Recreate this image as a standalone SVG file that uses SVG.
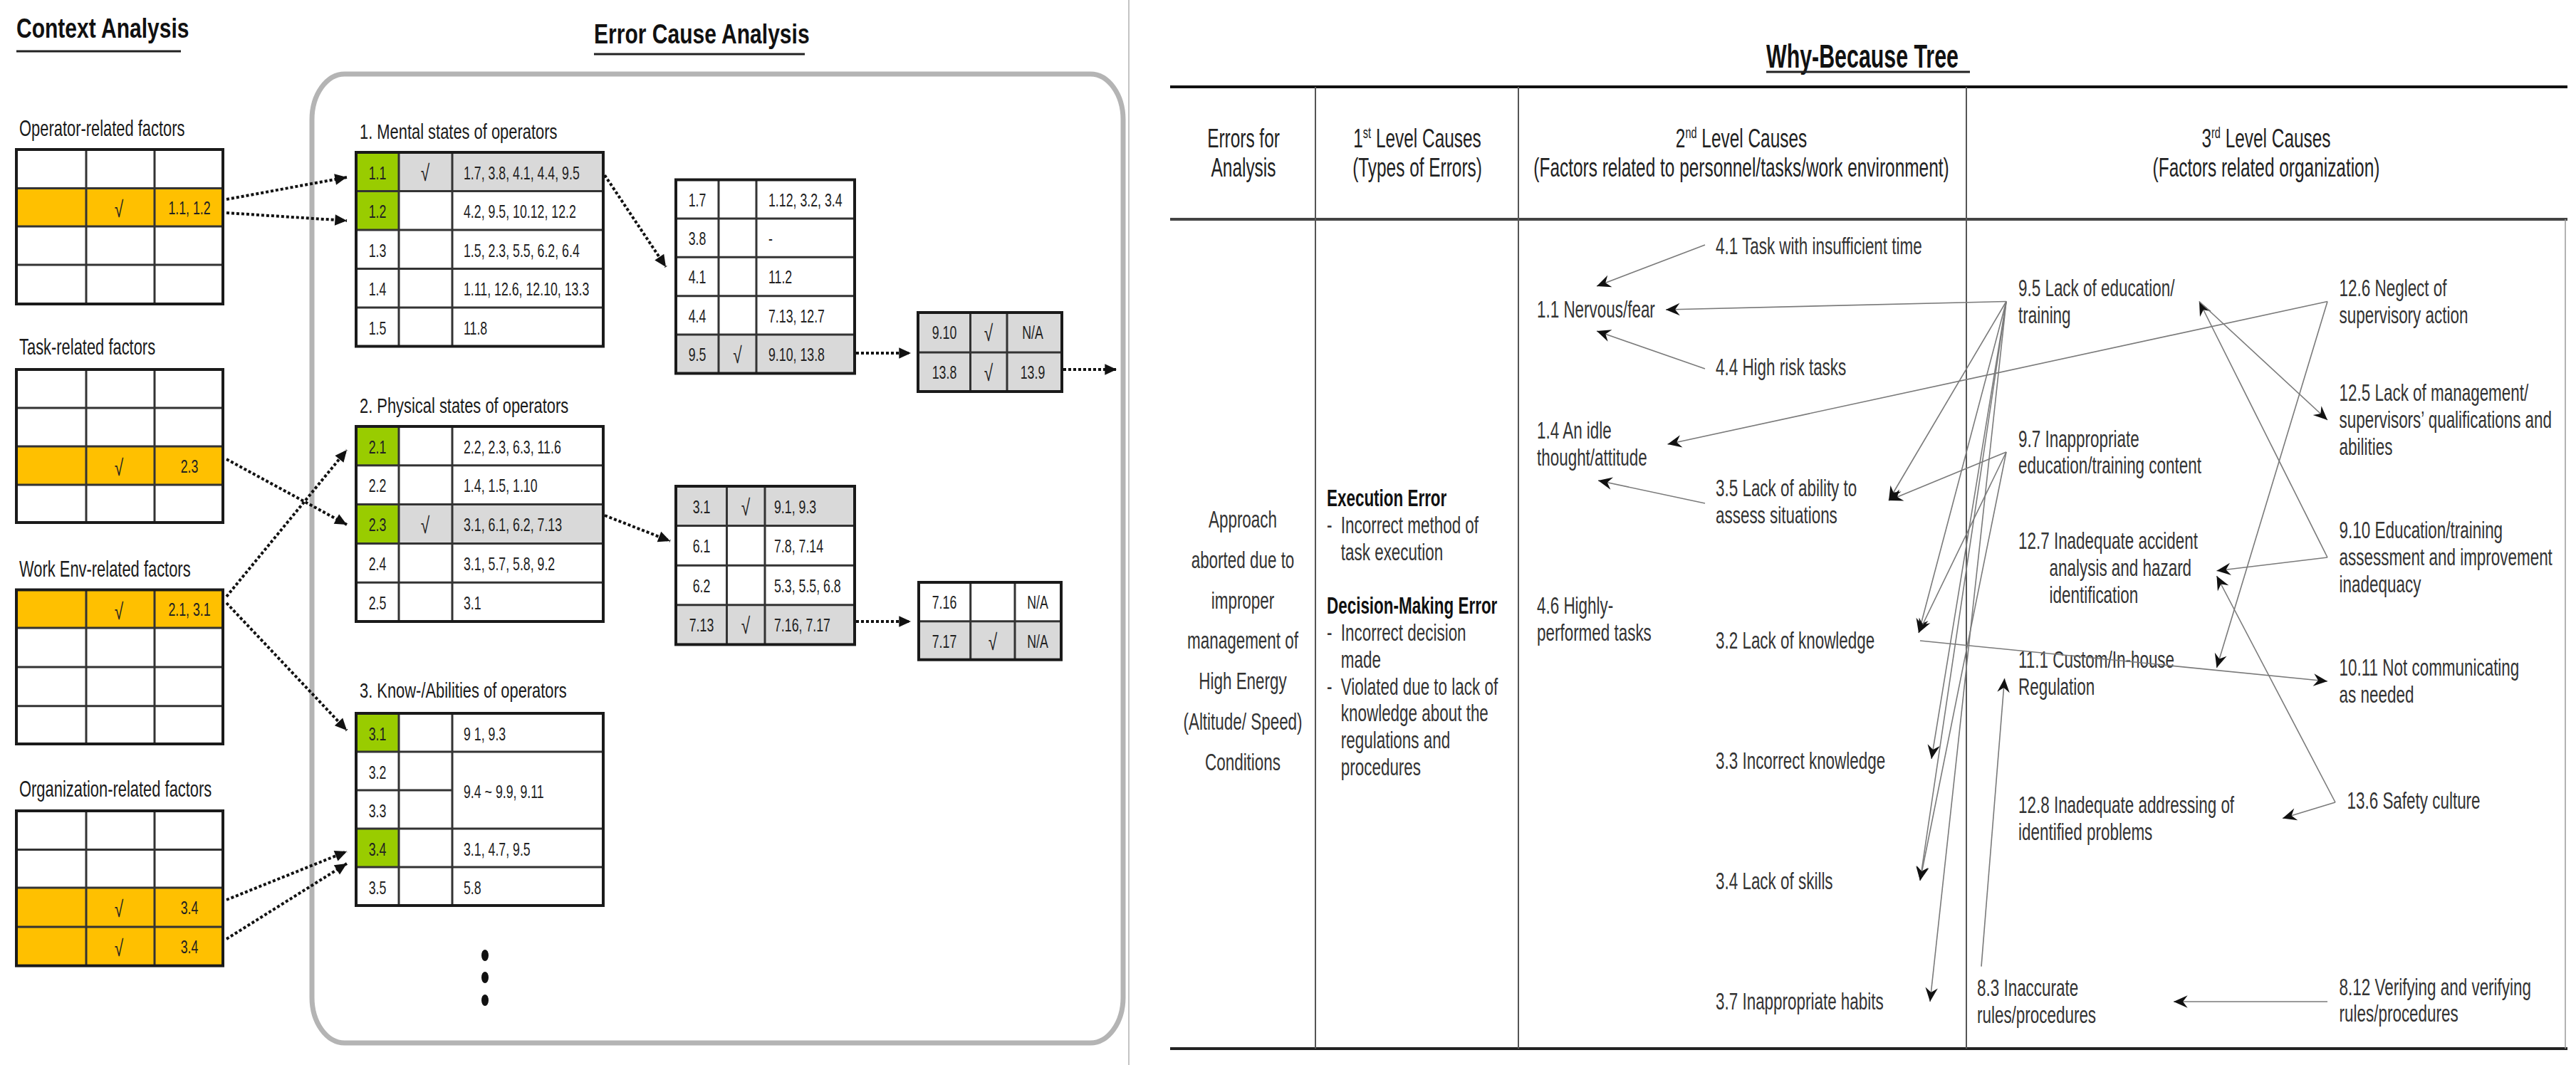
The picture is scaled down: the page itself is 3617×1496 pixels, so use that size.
<svg xmlns="http://www.w3.org/2000/svg" width="3617" height="1496" viewBox="0 0 3617 1496">
<defs>
<style>
.f{font-family:"Liberation Sans",Arial,"DejaVu Sans",sans-serif}
.lbl{font-size:32px;fill:#1a1a1a}
.cell{font-size:25px;fill:#222}
.chk{font-size:32px;fill:#222}
.ttl{font-size:39px;font-weight:bold;fill:#111}
.tb{fill:none;stroke:#1a1a1a;stroke-width:4}
.ln{stroke:#333;stroke-width:3;fill:none}
.y{fill:#FFC000}.g{fill:#99CC00}.gr{fill:#D9D9D9}
.dot{fill:none;stroke:#111;stroke-width:4;stroke-dasharray:4 3}
.rt{font-size:34px;fill:#333}
.rh{font-size:37px;fill:#222}
.con{fill:none;stroke:#7a7a7a;stroke-width:1.6}
.grid{stroke:#555;stroke-width:2}
</style>
<marker id="ad" markerUnits="userSpaceOnUse" markerWidth="20" markerHeight="20" viewBox="-16 -8 18 16" refX="0" refY="0" orient="auto"><path d="M0,0 L-15,-7 L-15,7 Z" fill="#111"/></marker>
<marker id="as" markerUnits="userSpaceOnUse" markerWidth="24" markerHeight="22" viewBox="-20 -10 22 20" refX="0" refY="0" orient="auto"><path d="M0,0 L-18,-8 L-12,0 L-18,8 Z" fill="#111"/></marker>
</defs>
<rect width="3617" height="1496" fill="#fff"/>

<!-- Titles -->
<g id="title-context">
<text class="f ttl" transform="translate(23,53) scale(0.77,1)">Context Analysis</text>
<path d="M23,72H254" stroke="#222" stroke-width="3"/>
</g>
<g id="title-error">
<text class="f ttl" transform="translate(834,61) scale(0.77,1)">Error Cause Analysis</text>
<path d="M834,76H1130" stroke="#222" stroke-width="3"/>
</g>
<rect id="error-frame" x="438" y="104" width="1139" height="1361" rx="46" ry="64" fill="none" stroke="#b4b4b4" stroke-width="7"/>
<path id="panel-divider" d="M1585,0V1496" stroke="#c4c4c4" stroke-width="2"/>

<!-- Context tables -->
<g id="ctx-operator">
<text class="f lbl" transform="translate(27,191) scale(0.685,1)">Operator-related factors</text>
<rect x="23" y="210" width="290" height="217" fill="#fff"/>
<rect x="23" y="264.5" width="290" height="53.5" class="y"/>
<path class="ln" d="M23,264.5H313M23,318H313M23,372H313M121,210V427M217,210V427"/>
<rect class="tb" x="23" y="210" width="290" height="217"/>
<text class="f chk" text-anchor="middle" transform="translate(167,305) scale(0.71,1)">√</text>
<text class="f cell" text-anchor="middle" transform="translate(266,301) scale(0.71,1)">1.1, 1.2</text>
</g>
<g id="ctx-task">
<text class="f lbl" transform="translate(27,497.5) scale(0.685,1)">Task-related factors</text>
<rect x="23" y="519" width="290" height="215" fill="#fff"/>
<rect x="23" y="627" width="290" height="54" class="y"/>
<path class="ln" d="M23,573H313M23,627H313M23,681H313M121,519V734M217,519V734"/>
<rect class="tb" x="23" y="519" width="290" height="215"/>
<text class="f chk" text-anchor="middle" transform="translate(167,668) scale(0.71,1)">√</text>
<text class="f cell" text-anchor="middle" transform="translate(266,664) scale(0.71,1)">2.3</text>
</g>
<g id="ctx-workenv">
<text class="f lbl" transform="translate(27,809.5) scale(0.685,1)">Work Env-related factors</text>
<rect x="23" y="828.5" width="290" height="216.5" fill="#fff"/>
<rect x="23" y="828.5" width="290" height="53.5" class="y"/>
<path class="ln" d="M23,882H313M23,937H313M23,991.7H313M121,828.5V1045M217,828.5V1045"/>
<rect class="tb" x="23" y="828.5" width="290" height="216.5"/>
<text class="f chk" text-anchor="middle" transform="translate(167,869.5) scale(0.71,1)">√</text>
<text class="f cell" text-anchor="middle" transform="translate(266,865) scale(0.71,1)">2.1, 3.1</text>
</g>
<g id="ctx-organization">
<text class="f lbl" transform="translate(27,1118.7) scale(0.685,1)">Organization-related factors</text>
<rect x="23" y="1139" width="290" height="217.6" fill="#fff"/>
<rect x="23" y="1247" width="290" height="109.6" class="y"/>
<path class="ln" d="M23,1193.5H313M23,1247H313M23,1302H313M121,1139V1356.6M217,1139V1356.6"/>
<rect class="tb" x="23" y="1139" width="290" height="217.6"/>
<text class="f chk" text-anchor="middle" transform="translate(167,1288) scale(0.71,1)">√</text>
<text class="f cell" text-anchor="middle" transform="translate(266,1283.5) scale(0.71,1)">3.4</text>
<text class="f chk" text-anchor="middle" transform="translate(167,1343) scale(0.71,1)">√</text>
<text class="f cell" text-anchor="middle" transform="translate(266,1338.5) scale(0.71,1)">3.4</text>
</g>

<!-- Error cause tables -->
<g id="ec-mental">
<text class="f lbl" style="font-size:30px" transform="translate(505,195) scale(0.73,1)">1. Mental states of operators</text>
<rect x="500" y="214" width="347" height="272.5" fill="#fff"/>
<rect x="500" y="214" width="60" height="109" class="g"/>
<rect x="560" y="214" width="287" height="54.5" class="gr"/>
<path class="ln" d="M500,268.5H847M500,323H847M500,377.5H847M500,432H847M560,214V486.5M635,214V486.5"/>
<rect class="tb" x="500" y="214" width="347" height="272.5"/>
<g class="f cell">
<text text-anchor="middle" transform="translate(530,251.5) scale(0.71,1)">1.1</text>
<text text-anchor="middle" transform="translate(530,306) scale(0.71,1)">1.2</text>
<text text-anchor="middle" transform="translate(530,360.5) scale(0.71,1)">1.3</text>
<text text-anchor="middle" transform="translate(530,415) scale(0.71,1)">1.4</text>
<text text-anchor="middle" transform="translate(530,469.5) scale(0.71,1)">1.5</text>
<text transform="translate(651,251.5) scale(0.71,1)">1.7, 3.8, 4.1, 4.4, 9.5</text>
<text transform="translate(651,306) scale(0.71,1)">4.2, 9.5, 10.12, 12.2</text>
<text transform="translate(651,360.5) scale(0.71,1)">1.5, 2.3, 5.5, 6.2, 6.4</text>
<text transform="translate(651,415) scale(0.71,1)">1.11, 12.6, 12.10, 13.3</text>
<text transform="translate(651,469.5) scale(0.71,1)">11.8</text>
</g>
<text class="f chk" text-anchor="middle" transform="translate(597,254) scale(0.71,1)">√</text>
</g>

<g id="ec-physical">
<text class="f lbl" style="font-size:30px" transform="translate(505,580) scale(0.73,1)">2. Physical states of operators</text>
<rect x="500" y="599" width="347" height="274" fill="#fff"/>
<rect x="500" y="599" width="60" height="54.8" class="g"/>
<rect x="500" y="708.6" width="60" height="54.8" class="g"/>
<rect x="560" y="708.6" width="287" height="54.8" class="gr"/>
<path class="ln" d="M500,653.8H847M500,708.6H847M500,763.4H847M500,818.2H847M560,599V873M635,599V873"/>
<rect class="tb" x="500" y="599" width="347" height="274"/>
<g class="f cell">
<text text-anchor="middle" transform="translate(530,636.5) scale(0.71,1)">2.1</text>
<text text-anchor="middle" transform="translate(530,691.3) scale(0.71,1)">2.2</text>
<text text-anchor="middle" transform="translate(530,746.1) scale(0.71,1)">2.3</text>
<text text-anchor="middle" transform="translate(530,800.9) scale(0.71,1)">2.4</text>
<text text-anchor="middle" transform="translate(530,855.7) scale(0.71,1)">2.5</text>
<text transform="translate(651,636.5) scale(0.71,1)">2.2, 2.3, 6.3, 11.6</text>
<text transform="translate(651,691.3) scale(0.71,1)">1.4, 1.5, 1.10</text>
<text transform="translate(651,746.1) scale(0.71,1)">3.1, 6.1, 6.2, 7.13</text>
<text transform="translate(651,800.9) scale(0.71,1)">3.1, 5.7, 5.8, 9.2</text>
<text transform="translate(651,855.7) scale(0.71,1)">3.1</text>
</g>
<text class="f chk" text-anchor="middle" transform="translate(597,749) scale(0.71,1)">√</text>
</g>

<g id="ec-know">
<text class="f lbl" style="font-size:30px" transform="translate(505,980) scale(0.73,1)">3. Know-/Abilities of operators</text>
<rect x="500" y="1002" width="347" height="270" fill="#fff"/>
<rect x="500" y="1002" width="60" height="54" class="g"/>
<rect x="500" y="1164" width="60" height="54" class="g"/>
<path class="ln" d="M500,1056H847M500,1110H635M500,1164H847M500,1218H847M560,1002V1272M635,1002V1272"/>
<rect class="tb" x="500" y="1002" width="347" height="270"/>
<g class="f cell">
<text text-anchor="middle" transform="translate(530,1039.5) scale(0.71,1)">3.1</text>
<text text-anchor="middle" transform="translate(530,1093.5) scale(0.71,1)">3.2</text>
<text text-anchor="middle" transform="translate(530,1147.5) scale(0.71,1)">3.3</text>
<text text-anchor="middle" transform="translate(530,1201.5) scale(0.71,1)">3.4</text>
<text text-anchor="middle" transform="translate(530,1255.5) scale(0.71,1)">3.5</text>
<text transform="translate(651,1039.5) scale(0.71,1)">9 1, 9.3</text>
<text transform="translate(651,1120.5) scale(0.71,1)">9.4 ~ 9.9, 9.11</text>
<text transform="translate(651,1201.5) scale(0.71,1)">3.1, 4.7, 9.5</text>
<text transform="translate(651,1255.5) scale(0.71,1)">5.8</text>
</g>
</g>

<g id="ec-dots" fill="#111">
<ellipse cx="681" cy="1342" rx="5" ry="8"/>
<ellipse cx="681" cy="1373" rx="5" ry="8"/>
<ellipse cx="681" cy="1405" rx="5" ry="8"/>
</g>

<g id="ec-t17">
<rect x="949" y="252.5" width="251" height="272" fill="#fff"/>
<rect x="949" y="470.1" width="251" height="54.4" class="gr"/>
<path class="ln" d="M949,306.9H1200M949,361.3H1200M949,415.7H1200M949,470.1H1200M1009,252.5V524.5M1062,252.5V524.5"/>
<rect class="tb" x="949" y="252.5" width="251" height="272"/>
<g class="f cell">
<text text-anchor="middle" transform="translate(979,289.5) scale(0.71,1)">1.7</text>
<text text-anchor="middle" transform="translate(979,343.9) scale(0.71,1)">3.8</text>
<text text-anchor="middle" transform="translate(979,398.3) scale(0.71,1)">4.1</text>
<text text-anchor="middle" transform="translate(979,452.7) scale(0.71,1)">4.4</text>
<text text-anchor="middle" transform="translate(979,507.1) scale(0.71,1)">9.5</text>
<text transform="translate(1079,289.5) scale(0.71,1)">1.12, 3.2, 3.4</text>
<text transform="translate(1079,343.9) scale(0.71,1)">-</text>
<text transform="translate(1079,398.3) scale(0.71,1)">11.2</text>
<text transform="translate(1079,452.7) scale(0.71,1)">7.13, 12.7</text>
<text transform="translate(1079,507.1) scale(0.71,1)">9.10, 13.8</text>
</g>
<text class="f chk" text-anchor="middle" transform="translate(1035.5,510) scale(0.71,1)">√</text>
</g>

<g id="ec-t910">
<rect x="1289" y="439" width="202" height="111" class="gr"/>
<path class="ln" d="M1289,495H1491M1362.5,439V550M1414,439V550"/>
<rect class="tb" x="1289" y="439" width="202" height="111"/>
<g class="f cell">
<text text-anchor="middle" transform="translate(1326,476) scale(0.71,1)">9.10</text>
<text text-anchor="middle" transform="translate(1326,531.5) scale(0.71,1)">13.8</text>
<text text-anchor="middle" transform="translate(1450,476) scale(0.71,1)">N/A</text>
<text text-anchor="middle" transform="translate(1450,531.5) scale(0.71,1)">13.9</text>
</g>
<text class="f chk" text-anchor="middle" transform="translate(1388,479) scale(0.71,1)">√</text>
<text class="f chk" text-anchor="middle" transform="translate(1388,534.5) scale(0.71,1)">√</text>
</g>

<g id="ec-t31">
<rect x="949" y="683" width="251" height="222.4" fill="#fff"/>
<rect x="949" y="683" width="251" height="55.6" class="gr"/>
<rect x="949" y="849.8" width="251" height="55.6" class="gr"/>
<path class="ln" d="M949,738.6H1200M949,794.2H1200M949,849.8H1200M1020.5,683V905.4M1074,683V905.4"/>
<rect class="tb" x="949" y="683" width="251" height="222.4"/>
<g class="f cell">
<text text-anchor="middle" transform="translate(985,720.5) scale(0.71,1)">3.1</text>
<text text-anchor="middle" transform="translate(985,776) scale(0.71,1)">6.1</text>
<text text-anchor="middle" transform="translate(985,831.5) scale(0.71,1)">6.2</text>
<text text-anchor="middle" transform="translate(985,887) scale(0.71,1)">7.13</text>
<text transform="translate(1087,720.5) scale(0.71,1)">9.1, 9.3</text>
<text transform="translate(1087,776) scale(0.71,1)">7.8, 7.14</text>
<text transform="translate(1087,831.5) scale(0.71,1)">5.3, 5.5, 6.8</text>
<text transform="translate(1087,887) scale(0.71,1)">7.16, 7.17</text>
</g>
<text class="f chk" text-anchor="middle" transform="translate(1047,723.5) scale(0.71,1)">√</text>
<text class="f chk" text-anchor="middle" transform="translate(1047,890) scale(0.71,1)">√</text>
</g>

<g id="ec-t716">
<rect x="1290" y="818" width="200" height="108.7" fill="#fff"/>
<rect x="1290" y="872.7" width="200" height="54" class="gr"/>
<path class="ln" d="M1290,872.7H1490M1362.7,818V926.7M1425,818V926.7"/>
<rect class="tb" x="1290" y="818" width="200" height="108.7"/>
<g class="f cell">
<text text-anchor="middle" transform="translate(1326,855) scale(0.71,1)">7.16</text>
<text text-anchor="middle" transform="translate(1326,909.5) scale(0.71,1)">7.17</text>
<text text-anchor="middle" transform="translate(1457,855) scale(0.71,1)">N/A</text>
<text text-anchor="middle" transform="translate(1457,909.5) scale(0.71,1)">N/A</text>
</g>
<text class="f chk" text-anchor="middle" transform="translate(1394,912.5) scale(0.71,1)">√</text>
</g>

<!-- Why-Because tree frame -->
<g id="wb-title">
<text class="f" style="font-size:46px;font-weight:bold;fill:#111" transform="translate(2480,95) scale(0.66,1)">Why-Because Tree</text>
<path d="M2480,101H2766" stroke="#222" stroke-width="3"/>
</g>
<g id="wb-grid">
<path d="M1643,122H3605" stroke="#111" stroke-width="4"/>
<path d="M1643,308H3605" stroke="#444" stroke-width="4"/>
<path d="M1643,1473H3605" stroke="#222" stroke-width="4"/>
<path class="grid" d="M1847,122V1473M2132,122V1473M2761,122V1473"/>
<path d="M3602,308V1473" stroke="#9a9a9a" stroke-width="1.5"/>
</g>
<g id="wb-header" class="f rh">
<g transform="translate(1746,0) scale(0.66,1)" text-anchor="middle"><text y="207">Errors for</text><text y="248">Analysis</text></g>
<g transform="translate(1990,0) scale(0.66,1)" text-anchor="middle"><text y="207">1<tspan dy="-13" style="font-size:22px">st</tspan><tspan dy="13"> Level Causes</tspan></text><text y="248">(Types of Errors)</text></g>
<g transform="translate(2445,0) scale(0.66,1)" text-anchor="middle"><text y="207">2<tspan dy="-13" style="font-size:22px">nd</tspan><tspan dy="13"> Level Causes</tspan></text><text y="248">(Factors related to personnel/tasks/work environment)</text></g>
<g transform="translate(3182,0) scale(0.66,1)" text-anchor="middle"><text y="207">3<tspan dy="-13" style="font-size:22px">rd</tspan><tspan dy="13"> Level Causes</tspan></text><text y="248">(Factors related organization)</text></g>
</g>

<!-- Why-Because nodes -->
<g id="wb-error" class="f rt" transform="translate(1745,0) scale(0.66,1)" text-anchor="middle">
<text y="741">Approach</text><text y="798">aborted due to</text><text y="855">improper</text><text y="911">management of</text><text y="968">High Energy</text><text y="1025">(Altitude/ Speed)</text><text y="1082">Conditions</text>
</g>
<g id="wb-level1" class="f rt" transform="translate(1863,0) scale(0.66,1)">
<text y="711" font-weight="bold" fill="#111">Execution Error</text>
<text y="749">-</text><text x="30" y="749">Incorrect method of</text>
<text x="30" y="786.6">task execution</text>
<text y="862" font-weight="bold" fill="#111">Decision-Making Error</text>
<text y="900">-</text><text x="30" y="900">Incorrect decision</text>
<text x="30" y="938">made</text>
<text y="976">-</text><text x="30" y="976">Violated due to lack of</text>
<text x="30" y="1013.5">knowledge about the</text>
<text x="30" y="1051">regulations and</text>
<text x="30" y="1089">procedures</text>
</g>
<g id="n11" class="f rt" transform="translate(2158,0) scale(0.66,1)"><text y="446">1.1 Nervous/fear</text></g>
<g id="n14" class="f rt" transform="translate(2158,0) scale(0.66,1)"><text y="616">1.4 An idle</text><text y="654">thought/attitude</text></g>
<g id="n46" class="f rt" transform="translate(2158,0) scale(0.66,1)"><text y="862">4.6 Highly-</text><text y="900">performed tasks</text></g>
<g id="n41" class="f rt" transform="translate(2409,0) scale(0.66,1)"><text y="357">4.1 Task with insufficient time</text></g>
<g id="n44" class="f rt" transform="translate(2409,0) scale(0.66,1)"><text y="527">4.4 High risk tasks</text></g>
<g id="n35" class="f rt" transform="translate(2409,0) scale(0.66,1)"><text y="697">3.5 Lack of ability to</text><text y="735">assess situations</text></g>
<g id="n32" class="f rt" transform="translate(2409,0) scale(0.66,1)"><text y="911">3.2 Lack of knowledge</text></g>
<g id="n33" class="f rt" transform="translate(2409,0) scale(0.66,1)"><text y="1080">3.3 Incorrect knowledge</text></g>
<g id="n34" class="f rt" transform="translate(2409,0) scale(0.66,1)"><text y="1249.5">3.4 Lack of skills</text></g>
<g id="n37" class="f rt" transform="translate(2409,0) scale(0.66,1)"><text y="1418">3.7 Inappropriate habits</text></g>
<g id="n95" class="f rt" transform="translate(2834,0) scale(0.66,1)"><text y="416">9.5 Lack of education/</text><text y="454">training</text></g>
<g id="n97" class="f rt" transform="translate(2834,0) scale(0.66,1)"><text y="627.7">9.7 Inappropriate</text><text y="665.5">education/training content</text></g>
<g id="n127" class="f rt" transform="translate(2834,0) scale(0.66,1)"><text y="771.4">12.7 Inadequate accident</text><text x="66" y="809">analysis and hazard</text><text x="66" y="847">identification</text></g>
<g id="n111" class="f rt" transform="translate(2834,0) scale(0.66,1)"><text y="938">11.1 Custom/In-house</text><text y="975.7">Regulation</text></g>
<g id="n128" class="f rt" transform="translate(2834,0) scale(0.66,1)"><text y="1142">12.8 Inadequate addressing of</text><text y="1180">identified problems</text></g>
<g id="n83" class="f rt" transform="translate(2776,0) scale(0.66,1)"><text y="1399">8.3 Inaccurate</text><text y="1437">rules/procedures</text></g>
<g id="n126" class="f rt" transform="translate(3284.6,0) scale(0.66,1)"><text y="416">12.6 Neglect of</text><text y="454">supervisory action</text></g>
<g id="n125" class="f rt" transform="translate(3284.6,0) scale(0.66,1)"><text y="563.4">12.5 Lack of management/</text><text y="601">supervisors’ qualifications and</text><text y="639">abilities</text></g>
<g id="n910" class="f rt" transform="translate(3284.6,0) scale(0.66,1)"><text y="756">9.10 Education/training</text><text y="794">assessment and improvement</text><text y="832">inadequacy</text></g>
<g id="n1011" class="f rt" transform="translate(3284.6,0) scale(0.66,1)"><text y="949">10.11 Not communicating</text><text y="987">as needed</text></g>
<g id="n136" class="f rt" transform="translate(3295.5,0) scale(0.66,1)"><text y="1136">13.6 Safety culture</text></g>
<g id="n812" class="f rt" transform="translate(3284.6,0) scale(0.66,1)"><text y="1398">8.12 Verifying and verifying</text><text y="1435.5">rules/procedures</text></g>

<!-- Connectors -->
<g id="connectors">
<g class="dot" marker-end="url(#ad)">
<path d="M318,280L487,249"/>
<path d="M318,299L487,310"/>
<path d="M318,645L487,737"/>
<path d="M318,838L487,632"/>
<path d="M318,847L487,1026"/>
<path d="M318,1264L487,1196"/>
<path d="M318,1319L487,1213"/>
<path d="M849,246L935,375"/>
<path d="M849,724L941,760"/>
<path d="M1202,496L1279,496"/>
<path d="M1493,519L1568,519"/>
<path d="M1202,873L1279,873"/>
</g>
<g class="con" marker-end="url(#as)">
<path d="M2394,344L2242,402"/>
<path d="M2394,518L2242,465"/>
<path d="M2394,707L2244,675"/>
<path d="M2817,423.5L2339,435"/>
<path d="M3268,423.5L2341.5,624"/>
<path d="M2817,423.5L2652,703"/>
<path d="M2817,635L2652,703"/>
<path d="M2817,423.5L2694,889"/>
<path d="M2817,635L2694,889"/>
<path d="M2817,423.5L2712,1066"/>
<path d="M2817,423.5L2696,1237"/>
<path d="M2817,635L2696,1237"/>
<path d="M2817,423.5L2710,1407"/>
<path d="M2696,900L3268,957"/>
<path d="M3268,423.5L3112.5,938"/>
<path d="M3268,783L3088,423.5"/>
<path d="M3088,423.5L3268,590"/>
<path d="M3268,783L3112.5,801.7"/>
<path d="M3279,1127L3112.5,809"/>
<path d="M3279,1127L3205,1149.6"/>
<path d="M2782,1357.6L2814.6,953"/>
<path d="M3268,1407L3052,1407"/>
</g>
</g>
</svg>
